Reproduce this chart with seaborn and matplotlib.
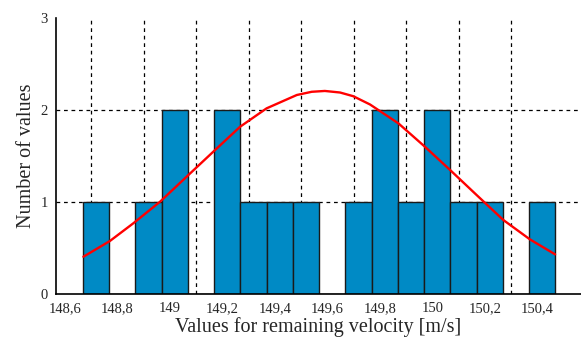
import numpy as np
import pandas as pd
import seaborn as sns
import matplotlib
matplotlib.use("Agg")
import matplotlib.pyplot as plt

# ---- data ----
bin_centers = [148.718, 148.818, 148.918, 149.018, 149.118, 149.218, 149.318, 149.418,
               149.518, 149.618, 149.718, 149.818, 149.918, 150.018, 150.118, 150.218,
               150.318, 150.418]
counts = [1, 0, 1, 2, 0, 2, 1, 1, 1, 0, 1, 2, 1, 2, 1, 1, 0, 1]
bin_start = 148.668
bin_width = 0.1

curve_x = [148.670, 148.771, 148.860, 148.962, 149.070, 149.165, 149.267, 149.368,
           149.483, 149.540, 149.590, 149.648, 149.698, 149.762, 149.870, 149.971, 150.067,
           150.168, 150.270, 150.371, 150.467]
curve_y = [0.405, 0.576, 0.768, 1.003, 1.293, 1.547, 1.818, 2.018,
           2.163, 2.198, 2.207, 2.190, 2.150, 2.060, 1.855, 1.601, 1.348,
           1.076, 0.804, 0.594, 0.431]

xtick_vals = [148.6, 148.8, 149.0, 149.2, 149.4, 149.6, 149.8, 150.0, 150.2, 150.4]
xtick_labels = ["148,6", "148,8", "149", "149,2", "149,4", "149,6", "149,8", "150", "150,2", "150,4"]
ytick_vals = [0, 1, 2, 3]
vgrid_vals = [148.7, 148.9, 149.1, 149.3, 149.5, 149.7, 149.9, 150.1, 150.3]
hgrid_vals = [1, 2]

sns.set_style("white")
plt.rcParams["font.family"] = ["Liberation Serif", "DejaVu Serif"]

fig = plt.figure(figsize=(5.81, 3.41), dpi=100)
ax = fig.add_axes([56 / 581, 1 - 294 / 341, 1 - 56 / 581, (294 - 18) / 341])

# grid (behind bars)
for gx in vgrid_vals:
    ax.axvline(gx, color="black", lw=0.9, ls=(0, (3, 3)), zorder=0)
for gy in hgrid_vals:
    ax.axhline(gy, color="black", lw=0.9, ls=(0, (3, 3)), zorder=0)

df = pd.DataFrame({"x": bin_centers, "w": counts})
sns.histplot(data=df, x="x", weights="w", binwidth=bin_width,
             binrange=(bin_start, bin_start + bin_width * len(bin_centers)), ax=ax,
             color="#008AC5", alpha=1.0, edgecolor="#1a1a1a", linewidth=1.0, zorder=2)

sns.lineplot(x=curve_x, y=curve_y, ax=ax, color="#FF0000", lw=1.7, zorder=3, sort=False)

ax.set_xlim(148.6 - 9 / 262.5, 148.6 + 516 / 262.5)
ax.set_ylim(0, 3)
ax.set_xticks(xtick_vals)
ax.set_xticklabels(xtick_labels)
ax.set_yticks(ytick_vals)
ax.set_yticklabels([str(v) for v in ytick_vals])
ax.tick_params(axis="both", direction="out", length=4, width=1, color="black",
               labelsize=10.5, pad=2)

for s in ["top", "right"]:
    ax.spines[s].set_visible(False)
for s in ["left", "bottom"]:
    ax.spines[s].set_color("black")
    ax.spines[s].set_linewidth(1.2)

ax.set_xlabel("Values for remaining velocity [m/s]", fontsize=14.5, labelpad=1)
ax.set_ylabel("Number of values", fontsize=14.5, labelpad=3)
ax.grid(False)

fig.savefig("out.png", dpi=100)
